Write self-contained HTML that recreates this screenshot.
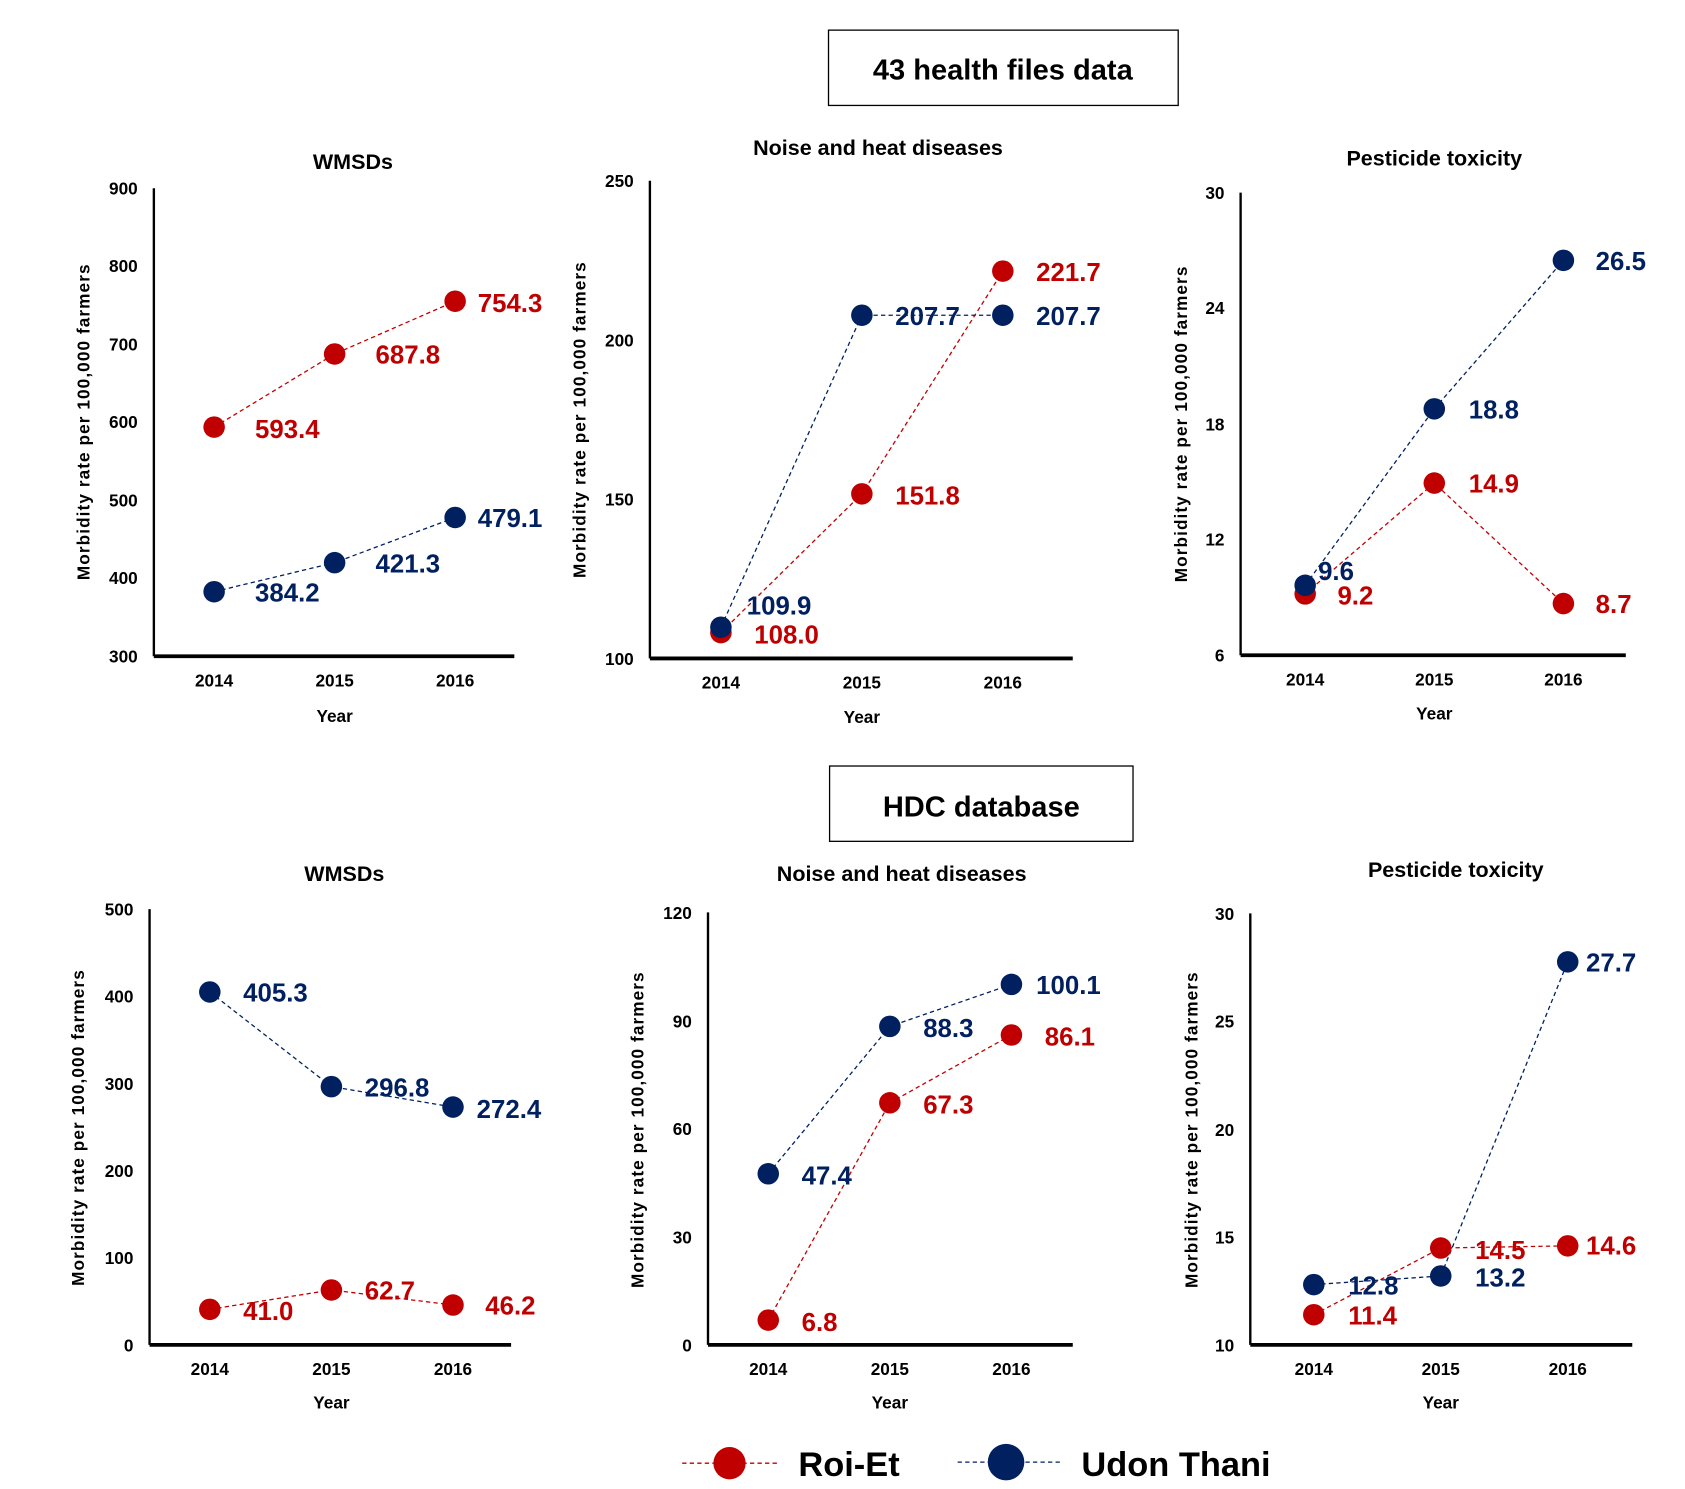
<!DOCTYPE html>
<html><head><meta charset="utf-8"><style>
html,body{margin:0;padding:0;background:#fff;}
svg{display:block;}
text{font-family:"Liberation Sans",Arial,sans-serif;font-weight:bold;}
.t{font-size:16px;fill:#000;}
.ti{font-size:20px;fill:#000;text-anchor:middle;}
.yl{font-size:16px;fill:#000;text-anchor:middle;letter-spacing:1px;}
.r{fill:#c00000;font-size:24px;}
.b{fill:#002060;font-size:24px;}
.lr{stroke:#c00000;stroke-width:1.2;stroke-dasharray:4 3;fill:none;}
.lb{stroke:#002060;stroke-width:1.2;stroke-dasharray:4 3;fill:none;}
.ax{stroke:#000;stroke-width:2.2;fill:none;}
.axx{stroke:#000;stroke-width:3.5;fill:none;}
.ya{text-anchor:end;}
.xa{text-anchor:middle;}
</style></head><body>
<svg width="1685" height="1489" viewBox="0 0 1566 1384" preserveAspectRatio="none">
<!-- Box 1 -->
<rect x="770" y="28" width="325" height="70" fill="#fff" stroke="#000" stroke-width="1.2"/>
<text x="932" y="74" text-anchor="middle" font-size="27">43 health files data</text>
<rect x="771" y="712" width="282" height="70" fill="#fff" stroke="#000" stroke-width="1.2"/>
<text x="912" y="759" text-anchor="middle" font-size="27">HDC database</text>

<!-- TL -->
<text class="ti" x="328" y="157">WMSDs</text>
<path class="ax" d="M143,175 V610"/><path class="axx" d="M143,610 H478"/>
<g class="t ya"><text x="128" y="181">900</text><text x="128" y="253">800</text><text x="128" y="326">700</text><text x="128" y="398">600</text><text x="128" y="471">500</text><text x="128" y="543">400</text><text x="128" y="616">300</text></g>
<g class="t xa"><text x="199" y="638">2014</text><text x="311" y="638">2015</text><text x="423" y="638">2016</text><text x="311" y="671">Year</text></g>
<text class="yl" transform="translate(83,392) rotate(-90)">Morbidity rate per 100,000 farmers</text>
<path class="lr" d="M199,397 L311,329 L423,280"/><path class="lb" d="M199,550 L311,523 L423,481"/>
<g fill="#c00000"><circle cx="199" cy="397" r="10"/><circle cx="311" cy="329" r="10"/><circle cx="423" cy="280" r="10"/></g>
<g fill="#002060"><circle cx="199" cy="550" r="10"/><circle cx="311" cy="523" r="10"/><circle cx="423" cy="481" r="10"/></g>
<text class="r" x="237" y="407">593.4</text><text class="r" x="349" y="338">687.8</text><text class="r" x="444" y="290">754.3</text>
<text class="b" x="237" y="559">384.2</text><text class="b" x="349" y="532">421.3</text><text class="b" x="444" y="490">479.1</text>

<!-- TM -->
<text class="ti" x="816" y="144">Noise and heat diseases</text>
<path class="ax" d="M604,168 V612"/><path class="axx" d="M604,612 H997"/>
<g class="t ya"><text x="589" y="174">250</text><text x="589" y="322">200</text><text x="589" y="470">150</text><text x="589" y="618">100</text></g>
<g class="t xa"><text x="670" y="640">2014</text><text x="801" y="640">2015</text><text x="932" y="640">2016</text><text x="801" y="672">Year</text></g>
<text class="yl" transform="translate(544,390) rotate(-90)">Morbidity rate per 100,000 farmers</text>
<path class="lr" d="M670,588 L801,459 L932,252"/><path class="lb" d="M670,583 L801,293 L932,293"/>
<g fill="#c00000"><circle cx="670" cy="588" r="10"/><circle cx="801" cy="459" r="10"/><circle cx="932" cy="252" r="10"/></g>
<g fill="#002060"><circle cx="670" cy="583" r="10"/><circle cx="801" cy="293" r="10"/><circle cx="932" cy="293" r="10"/></g>
<text class="r" x="963" y="261">221.7</text><text class="r" x="832" y="469">151.8</text><text class="r" x="701" y="598">108.0</text>
<text class="b" x="832" y="302">207.7</text><text class="b" x="963" y="302">207.7</text><text class="b" x="694" y="571">109.9</text>

<!-- TR -->
<text class="ti" x="1333" y="154">Pesticide toxicity</text>
<path class="ax" d="M1153,179 V609"/><path class="axx" d="M1153,609 H1511"/>
<g class="t ya"><text x="1138" y="185">30</text><text x="1138" y="292">24</text><text x="1138" y="400">18</text><text x="1138" y="507">12</text><text x="1138" y="615">6</text></g>
<g class="t xa"><text x="1213" y="637">2014</text><text x="1333" y="637">2015</text><text x="1453" y="637">2016</text><text x="1333" y="669">Year</text></g>
<text class="yl" transform="translate(1103,394) rotate(-90)">Morbidity rate per 100,000 farmers</text>
<path class="lr" d="M1213,552 L1333,449 L1453,561"/><path class="lb" d="M1213,544 L1333,380 L1453,242"/>
<g fill="#c00000"><circle cx="1213" cy="552" r="10"/><circle cx="1333" cy="449" r="10"/><circle cx="1453" cy="561" r="10"/></g>
<g fill="#002060"><circle cx="1213" cy="544" r="10"/><circle cx="1333" cy="380" r="10"/><circle cx="1453" cy="242" r="10"/></g>
<text class="r" x="1365" y="458">14.9</text><text class="r" x="1243" y="562">9.2</text><text class="r" x="1483" y="570">8.7</text>
<text class="b" x="1483" y="251">26.5</text><text class="b" x="1365" y="389">18.8</text><text class="b" x="1225" y="539">9.6</text>

<!-- BL -->
<text class="ti" x="320" y="819">WMSDs</text>
<path class="ax" d="M139,845 V1250"/><path class="axx" d="M139,1250 H475"/>
<g class="t ya"><text x="124" y="851">500</text><text x="124" y="932">400</text><text x="124" y="1013">300</text><text x="124" y="1094">200</text><text x="124" y="1175">100</text><text x="124" y="1256">0</text></g>
<g class="t xa"><text x="195" y="1278">2014</text><text x="308" y="1278">2015</text><text x="421" y="1278">2016</text><text x="308" y="1309">Year</text></g>
<text class="yl" transform="translate(78,1048) rotate(-90)">Morbidity rate per 100,000 farmers</text>
<path class="lr" d="M195,1217 L308,1199 L421,1213"/><path class="lb" d="M195,922 L308,1010 L421,1029"/>
<g fill="#c00000"><circle cx="195" cy="1217" r="10"/><circle cx="308" cy="1199" r="10"/><circle cx="421" cy="1213" r="10"/></g>
<g fill="#002060"><circle cx="195" cy="922" r="10"/><circle cx="308" cy="1010" r="10"/><circle cx="421" cy="1029" r="10"/></g>
<text class="r" x="226" y="1227">41.0</text><text class="r" x="339" y="1208">62.7</text><text class="r" x="451" y="1222">46.2</text>
<text class="b" x="226" y="931">405.3</text><text class="b" x="339" y="1019">296.8</text><text class="b" x="443" y="1039">272.4</text>

<!-- BM -->
<text class="ti" x="838" y="819">Noise and heat diseases</text>
<path class="ax" d="M658,848 V1250"/><path class="axx" d="M658,1250 H997"/>
<g class="t ya"><text x="643" y="854">120</text><text x="643" y="955">90</text><text x="643" y="1055">60</text><text x="643" y="1156">30</text><text x="643" y="1256">0</text></g>
<g class="t xa"><text x="714" y="1278">2014</text><text x="827" y="1278">2015</text><text x="940" y="1278">2016</text><text x="827" y="1309">Year</text></g>
<text class="yl" transform="translate(598,1050) rotate(-90)">Morbidity rate per 100,000 farmers</text>
<path class="lr" d="M714,1227 L827,1025 L940,962"/><path class="lb" d="M714,1091 L827,954 L940,915"/>
<g fill="#c00000"><circle cx="714" cy="1227" r="10"/><circle cx="827" cy="1025" r="10"/><circle cx="940" cy="962" r="10"/></g>
<g fill="#002060"><circle cx="714" cy="1091" r="10"/><circle cx="827" cy="954" r="10"/><circle cx="940" cy="915" r="10"/></g>
<text class="r" x="745" y="1237">6.8</text><text class="r" x="858" y="1035">67.3</text><text class="r" x="971" y="972">86.1</text>
<text class="b" x="745" y="1101">47.4</text><text class="b" x="858" y="964">88.3</text><text class="b" x="963" y="924">100.1</text>

<!-- BR -->
<text class="ti" x="1353" y="815">Pesticide toxicity</text>
<path class="ax" d="M1162,849 V1250"/><path class="axx" d="M1162,1250 H1517"/>
<g class="t ya"><text x="1147" y="855">30</text><text x="1147" y="955">25</text><text x="1147" y="1056">20</text><text x="1147" y="1156">15</text><text x="1147" y="1256">10</text></g>
<g class="t xa"><text x="1221" y="1278">2014</text><text x="1339" y="1278">2015</text><text x="1457" y="1278">2016</text><text x="1339" y="1309">Year</text></g>
<text class="yl" transform="translate(1113,1050) rotate(-90)">Morbidity rate per 100,000 farmers</text>
<path class="lr" d="M1221,1222 L1339,1160 L1457,1158"/><path class="lb" d="M1221,1194 L1339,1186 L1457,894"/>
<g fill="#c00000"><circle cx="1221" cy="1222" r="10"/><circle cx="1339" cy="1160" r="10"/><circle cx="1457" cy="1158" r="10"/></g>
<g fill="#002060"><circle cx="1221" cy="1194" r="10"/><circle cx="1339" cy="1186" r="10"/><circle cx="1457" cy="894" r="10"/></g>
<text class="r" x="1253" y="1231">11.4</text><text class="r" x="1371" y="1170">14.5</text><text class="r" x="1474" y="1166">14.6</text>
<text class="b" x="1253" y="1203">12.8</text><text class="b" x="1371" y="1196">13.2</text><text class="b" x="1474" y="903">27.7</text>

<!-- Legend -->
<path class="lr" d="M634,1360 H725"/><circle cx="678" cy="1360" r="15" fill="#c00000"/>
<text x="742" y="1372" font-size="32">Roi-Et</text>
<path class="lb" d="M890,1359 H985"/><circle cx="935" cy="1359" r="17" fill="#002060"/>
<text x="1005" y="1372" font-size="32">Udon Thani</text>
</svg>
</body></html>
